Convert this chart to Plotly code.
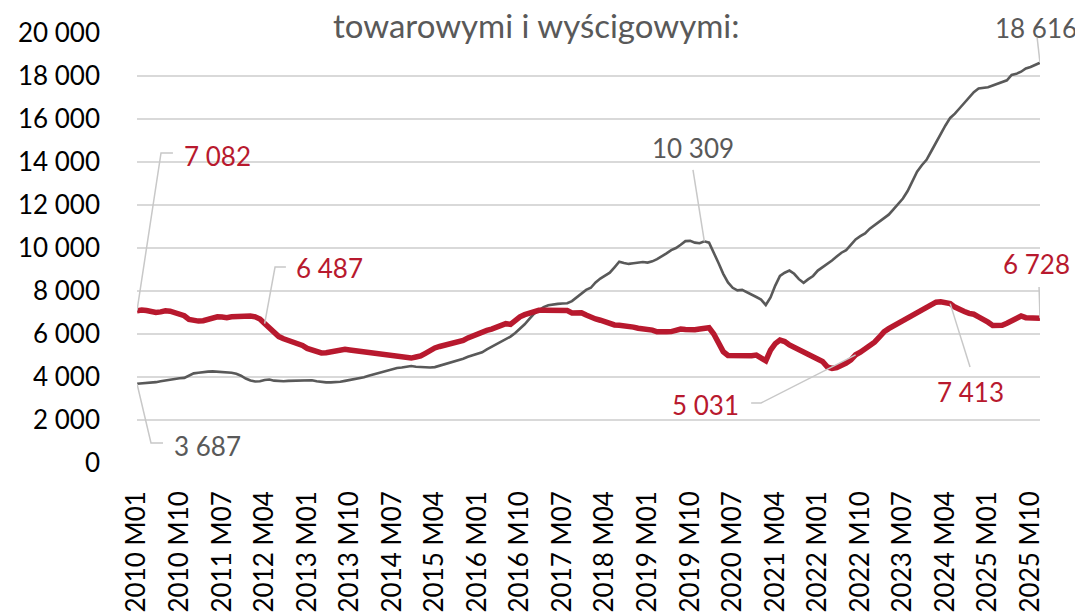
import plotly.graph_objects as go

# ---- data ----
years = list(range(2010, 2026))
months = [f"{y} M{m:02d}" for y in years for m in range(1, 13)]

grey_values = [
    3687, 3700, 3715, 3730, 3760, 3800, 3840, 3880, 3900, 3940, 3960, 4050,   # 2010
    4170, 4200, 4240, 4250, 4260, 4250, 4240, 4220, 4200, 4150, 4060, 3930,   # 2011
    3840, 3790, 3800, 3860, 3880, 3830, 3810, 3800, 3820, 3830, 3830, 3850,   # 2012
    3860, 3850, 3800, 3760, 3750, 3750, 3760, 3780, 3820, 3860, 3880, 3930,   # 2013
    3990, 4060, 4120, 4180, 4250, 4300, 4390, 4420, 4440, 4480, 4510, 4480,   # 2014
    4460, 4450, 4440, 4460, 4520, 4590, 4640, 4700, 4780, 4850, 4940, 5020,   # 2015
    5080, 5150, 5280, 5400, 5500, 5620, 5750, 5880, 6050, 6250, 6450, 6700,   # 2016
    6950, 7100, 7250, 7340, 7380, 7400, 7420, 7430, 7530, 7700, 7900, 8050,   # 2017
    8150, 8400, 8580, 8720, 8850, 9100, 9360, 9300, 9260, 9290, 9320, 9350,   # 2018
    9320, 9380, 9480, 9600, 9750, 9900, 10000, 10150, 10320, 10330, 10250, 10220,  # 2019
    10309, 10250, 9800, 9300, 8800, 8400, 8150, 8030, 8050, 7950, 7850, 7720,  # 2020
    7600, 7350, 7700, 8250, 8700, 8850, 8950, 8800, 8550, 8380, 8550, 8700,   # 2021
    8950, 9100, 9250, 9420, 9600, 9780, 9900, 10150, 10400, 10550, 10680, 10900,  # 2022
    11070, 11250, 11400, 11550, 11800, 12050, 12300, 12650, 13100, 13550, 13850, 14100,  # 2023
    14500, 14900, 15350, 15700, 16050, 16250, 16500, 16750, 17000, 17250, 17420, 17460,  # 2024
    17480, 17560, 17650, 17720, 17800, 18050, 18100, 18200, 18350, 18420, 18520, 18616,  # 2025
]

red_values = [
    7082, 7120, 7090, 7040, 7000, 7030, 7080, 7060, 7000, 6950, 6850, 6680,   # 2010
    6620, 6600, 6620, 6690, 6760, 6800, 6790, 6760, 6800, 6810, 6840, 6850,   # 2011
    6840, 6800, 6700, 6487, 6300, 6050, 5880, 5780, 5700, 5620, 5560, 5470,   # 2012
    5330, 5250, 5180, 5120, 5130, 5170, 5200, 5270, 5290, 5260, 5230, 5220,   # 2013
    5190, 5170, 5130, 5070, 5050, 5020, 4980, 4950, 4900, 4870, 4880, 4930,   # 2014
    4980, 5100, 5250, 5350, 5420, 5480, 5540, 5600, 5620, 5700, 5820, 5920,   # 2015
    6020, 6080, 6170, 6230, 6330, 6400, 6480, 6450, 6650, 6800, 6900, 6980,   # 2016
    7050, 7100, 7100, 7110, 7120, 7100, 7110, 7090, 6980, 6960, 6990, 6880,   # 2017
    6760, 6700, 6640, 6560, 6460, 6420, 6410, 6400, 6380, 6320, 6270, 6250,   # 2018
    6240, 6180, 6100, 6080, 6100, 6110, 6180, 6230, 6210, 6190, 6200, 6230,   # 2019
    6230, 6290, 6000, 5550, 5180, 5000, 5000, 5010, 4990, 4950, 4990, 5020,   # 2020
    4900, 4750, 5250, 5550, 5720, 5650, 5490, 5380, 5260, 5120, 5000, 4930,   # 2021
    4820, 4720, 4470, 4400, 4440, 4520, 4650, 4800, 5031, 5150, 5300, 5450,   # 2022
    5620, 5850, 6100, 6250, 6380, 6500, 6600, 6720, 6850, 6980, 7120, 7270,   # 2023
    7380, 7480, 7500, 7470, 7413, 7250, 7120, 7050, 6960, 6920, 6800, 6700,   # 2024
    6550, 6400, 6380, 6410, 6500, 6600, 6700, 6840, 6760, 6730, 6700, 6728,   # 2025
]

tick_labels = months[::9]
y_ticks = list(range(0, 20001, 2000))
title_text = "towarowymi i wyścigowymi:"

RED = "#B8192E"
GREY = "#595959"
LEADER = "#C8C8C8"
FONT = "Lato, 'Open Sans', sans-serif"

# (text, point index, series, label x, label y, x anchor, y shift px, leader path)
labels = [
    ("7 082", 0, "red", 9.5, 14280, "left", 0, [(5.08, 14420), (7.6, 14420)]),
    ("6 487", 27, "red", 33.2, 9070, "left", 0, [(29.2, 9116), (31.5, 9116)]),
    ("3 687", 0, "grey", 7.4, 790, "left", 0, [(2.96, 930), (5.5, 930)]),
    ("10 309", 120, "grey", 117.6, 14650, "center", 0, [(117.6, 13630)]),
    ("18 616", 191, "grey", 190.2, 20000, "center", 5, [(190.4, 19770)]),
    ("5 031", 152, "red", 127.8, 2700, "right", 0, [(132.0, 2791), (129.9, 2791)]),
    ("7 413", 172, "red", 176.2, 3300, "center", 0, [(176.2, 4465)]),
    ("6 728", 191, "red", 190.2, 9256, "center", 0, [(190.8, 8186)]),
]

fig = go.Figure()
fig.add_trace(go.Scatter(x=months, y=grey_values, mode="lines",
                         line=dict(color=GREY, width=2.6), hoverinfo="skip"))
fig.add_trace(go.Scatter(x=months, y=red_values, mode="lines",
                         line=dict(color=RED, width=5.5), hoverinfo="skip"))

for text, idx, series, lx, ly, anchor, ysh, path in labels:
    val = red_values[idx] if series == "red" else grey_values[idx]
    pts = [(idx, val)] + path
    d = "M " + " L ".join(f"{px},{py}" for px, py in pts)
    fig.add_shape(type="path", path=d, xref="x", yref="y",
                  line=dict(color=LEADER, width=1.5), layer="above")
    fig.add_annotation(x=lx, y=ly, xref="x", yref="y", text=text,
                       showarrow=False, xanchor=anchor, yanchor="middle",
                       yshift=ysh,
                       font=dict(family=FONT, size=26,
                                 color=RED if series == "red" else GREY))

fig.add_annotation(x=0.442, y=1.018, xref="paper", yref="paper", text=title_text,
                   showarrow=False, xanchor="center", yanchor="middle",
                   font=dict(family=FONT, size=33, color=GREY))

fig.update_layout(
    width=1083, height=616,
    margin=dict(l=129, r=51, t=25, b=161),
    paper_bgcolor="white", plot_bgcolor="white",
    showlegend=False,
    separators=", ",
    font=dict(family=FONT, size=26, color="#000000"),
)
fig.update_xaxes(type="category", categoryorder="array", categoryarray=months,
                 range=[0, len(months) - 1],
                 tickmode="array", tickvals=tick_labels, ticktext=tick_labels,
                 tickangle=-90, showgrid=False, zeroline=False, showline=False,
                 ticks="", ticklabelstandoff=22, automargin=False,
                 tickfont=dict(family=FONT, size=26, color="#000000"))
fig.update_yaxes(range=[0, 20000], tickmode="array", tickvals=y_ticks,
                 tickformat=",d", showgrid=True, gridcolor="#D9D9D9", gridwidth=2,
                 zeroline=False, showline=False, ticks="", ticklabelstandoff=36,
                 automargin=False,
                 tickfont=dict(family=FONT, size=26, color="#000000"))

fig.write_html("out.html")
